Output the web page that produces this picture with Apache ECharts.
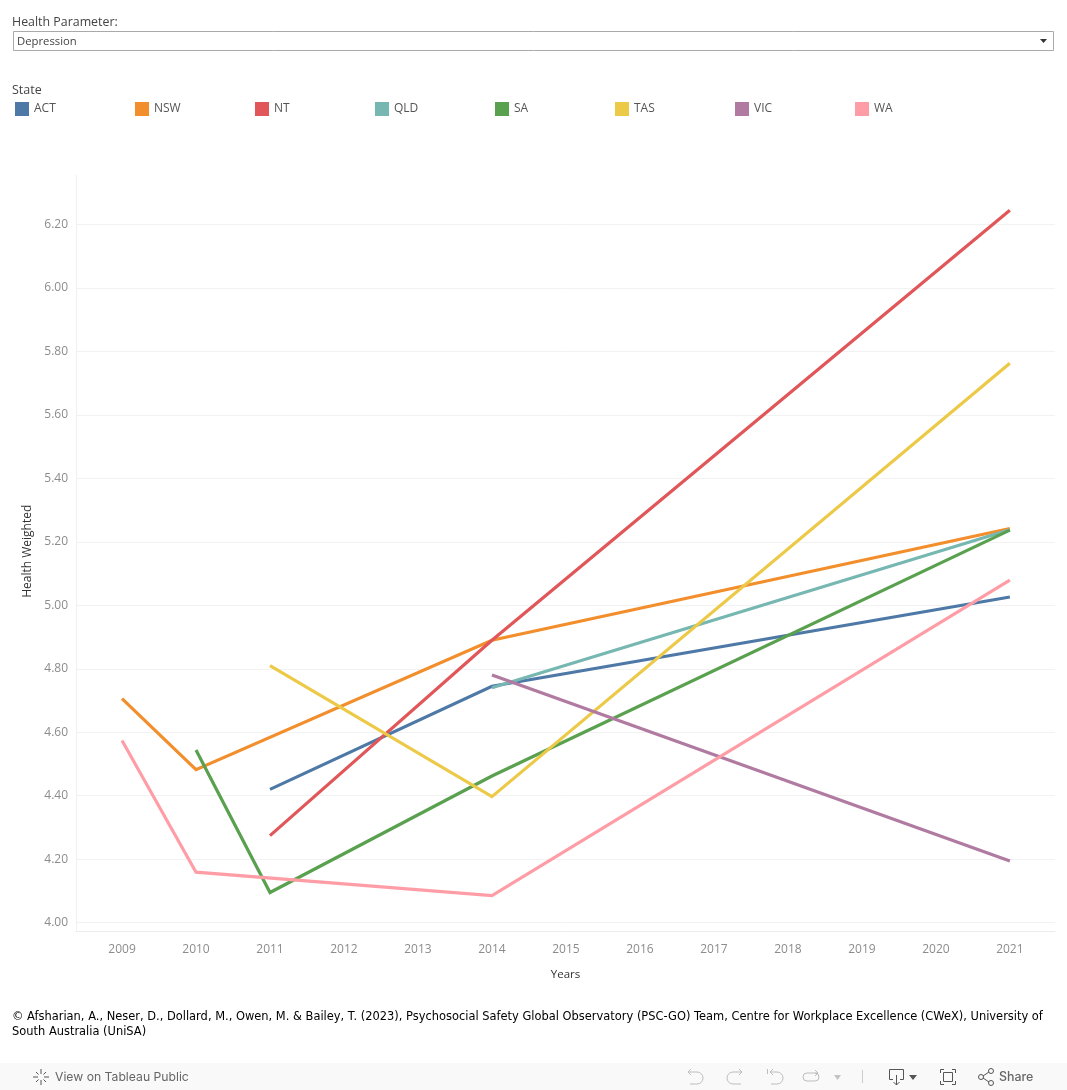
<!DOCTYPE html>
<html><head><meta charset="utf-8">
<style>html,body{margin:0;padding:0;background:#fff}#c{width:1067px;height:1090px}</style>
<script src="https://cdn.jsdelivr.net/npm/echarts@6/dist/echarts.min.js"></script>
</head><body><div id="c"></div>
<script>
const years=[2009,2010,2011,2012,2013,2014,2015,2016,2017,2018,2019,2020,2021];
const yTicks=[4.0,4.2,4.4,4.6,4.8,5.0,5.2,5.4,5.6,5.8,6.0,6.2];
const states=['ACT','NSW','NT','QLD','SA','TAS','VIC','WA'];
const colors=['#4e79a7','#f28e2b','#e15759','#76b7b2','#59a14f','#edc948','#b07aa1','#ff9da7'];
const ACT=[null,null,4.42,null,null,4.745,null,null,null,null,null,null,5.026];
const NSW=[4.706,4.482,null,null,null,4.89,null,null,null,null,null,null,5.242];
const NT=[null,null,4.274,null,null,4.89,null,null,null,null,null,null,6.245];
const QLD=[null,null,null,null,null,4.74,null,null,null,null,null,null,5.238];
const SA=[null,4.544,4.095,null,null,4.462,null,null,null,null,null,null,5.237];
const TAS=[null,null,4.81,null,null,4.397,null,null,null,null,null,null,5.763];
const VIC=[null,null,null,null,null,4.78,null,null,null,null,null,null,4.194];
const WA=[4.574,4.159,null,null,null,4.085,null,null,null,null,null,null,5.079];
const seriesData=[ACT,NSW,NT,QLD,SA,TAS,VIC,WA];
const citation=['© Afsharian, A., Neser, D., Dollard, M., Owen, M. & Bailey, T. (2023), Psychosocial Safety Global Observatory (PSC-GO) Team, Centre for Workplace Excellence (CWeX), University of','South Australia (UniSA)'];

const UI='"Open Sans"';
const txt=(x,y,t,o)=>({type:'text',x,y,silent:true,style:Object.assign({text:t,fontFamily:UI,fontSize:11,fill:'#333',textVerticalAlign:'middle'},o||{})});
const pl=(pts,stroke)=>({type:'polyline',silent:true,shape:{points:pts},style:{fill:'none',stroke:stroke,lineWidth:1}});
const arc=(cx,cy,r,a,b,stroke)=>({type:'arc',silent:true,shape:{cx,cy,r,startAngle:a,endAngle:b,clockwise:true},style:{fill:'none',stroke:stroke,lineWidth:1}});
const circ=(cx,cy,r,stroke)=>({type:'circle',silent:true,shape:{cx,cy,r},style:{fill:'none',stroke:stroke,lineWidth:1}});
const P=Math.PI, G='#bdbdbd', D='#555';

const chart=echarts.init(document.getElementById('c'),null,{renderer:'canvas'});
chart.setOption({
 animation:false,backgroundColor:'#fff',
 grid:{left:76,right:12,top:175,bottom:158.5,containLabel:false},
 legend:states.map((s,i)=>({left:15+120*i,top:102,padding:0,icon:'rect',itemWidth:14,itemHeight:14,itemGap:0,selectedMode:false,
  data:[s],textStyle:{fontFamily:UI,fontSize:12,color:'#555'}})),
 xAxis:{type:'value',min:2008.378,max:2021.61,
  name:'Years',nameLocation:'middle',nameGap:37,nameTextStyle:{fontFamily:UI,fontSize:11.5,color:'#333'},
  axisLine:{show:true,lineStyle:{color:'#ececec',width:1}},
  axisTick:{show:false,customValues:years},
  axisLabel:{customValues:years,fontFamily:UI,fontSize:12,color:'#8c8c8c',margin:12,formatter:v=>String(v)},
  splitLine:{show:false}},
 yAxis:{type:'value',min:3.972,max:6.356,
  name:'Health Weighted',nameLocation:'middle',nameGap:41,nameTextStyle:{fontFamily:UI,fontSize:12,color:'#333',padding:[0,0,0,4]},
  axisLine:{show:true,onZero:false,lineStyle:{color:'#f0f0f0',width:1}},
  axisTick:{show:false,customValues:yTicks},
  axisLabel:{customValues:yTicks,fontFamily:UI,fontSize:12,color:'#8c8c8c',margin:8,padding:[2,0,0,0],formatter:v=>v.toFixed(2)},
  splitLine:{show:true,lineStyle:{color:'#f2f2f2',width:1}}},
 series:states.map((s,i)=>({name:s,type:'line',showSymbol:false,symbol:'none',connectNulls:true,z:i+2,
   itemStyle:{color:colors[i]},lineStyle:{color:colors[i],width:3.2,join:'miter',cap:'butt'},
   data:years.map((y,j)=>[y,seriesData[i][j]]).filter(p=>p[1]!==null)})),
 graphic:[
  txt(12,22,'Health Parameter:',{fontSize:12.4,fill:'#444'}),
  {type:'rect',silent:true,shape:{x:13.5,y:31.5,width:1040,height:19},style:{fill:'#fff',stroke:'#a9a9a9',lineWidth:1}},
  txt(17,42,'Depression',{fontSize:11.3,fill:'#444'}),
  {type:'polygon',silent:true,shape:{points:[[1040,39],[1047,39],[1043.5,43]]},style:{fill:'#333'}},
  txt(12,90,'State',{fontSize:12.5,fill:'#444'}),
  txt(12,1017,citation[0],{fontFamily:'"DejaVu Sans"',fontSize:11.45,fill:'#000'}),
  txt(12,1032,citation[1],{fontFamily:'"DejaVu Sans"',fontSize:11.45,fill:'#000'}),
  {type:'rect',silent:true,z:-1,shape:{x:0,y:1063,width:1067,height:27},style:{fill:'#f9f9f9'}},
  txt(55,1077,'View on Tableau Public',{fontFamily:'Inter',fontSize:12.2,fill:'#666'}),
  pl([[41,1069],[41,1074]],D),pl([[41,1080],[41,1085]],D),pl([[33,1077],[38,1077]],D),pl([[44,1077],[49,1077]],D),
  pl([[36,1072],[38.5,1074.5]],D),pl([[46,1072],[43.5,1074.5]],D),pl([[36,1082],[38.5,1079.5]],D),pl([[46,1082],[43.5,1079.5]],D),
  pl([[691,1069],[688,1072],[691,1075]],G),pl([[688,1072],[697,1072]],G),arc(697,1078,6,-P/2,P/2,G),pl([[697,1084],[690,1084]],G),
  pl([[739,1069],[742,1072],[739,1075]],G),pl([[742,1072],[733,1072]],G),arc(733,1078,6,P/2,3*P/2,G),pl([[733,1084],[741,1084]],G),
  pl([[767.5,1069],[767.5,1074]],G),pl([[773,1069],[770,1072],[773,1075]],G),pl([[770,1072],[777,1072]],G),arc(777,1078,6,-P/2,P/2,G),pl([[777,1084],[771,1084]],G),
  pl([[815,1070],[818,1073],[815,1076]],G),pl([[818,1073],[807,1073]],G),arc(807,1077,4,P/2,3*P/2,G),pl([[807,1081],[815,1081]],G),arc(815,1077,4,-P/2,P/2,G),
  {type:'polygon',silent:true,shape:{points:[[834,1075],[841,1075],[837.5,1080]]},style:{fill:'#c4c4c4'}},
  {type:'line',silent:true,shape:{x1:862.5,y1:1070,x2:862.5,y2:1083},style:{stroke:'#ccc',lineWidth:1}},
  pl([[893,1079.5],[889.5,1079.5],[889.5,1069.5],[903.5,1069.5],[903.5,1079.5],[900,1079.5]],D),pl([[896.5,1075],[896.5,1085]],D),pl([[893.5,1082],[896.5,1085],[899.5,1082]],D),
  {type:'polygon',silent:true,shape:{points:[[909,1075],[917,1075],[913,1080]]},style:{fill:'#555'}},
  pl([[940.5,1073],[940.5,1069.5],[944,1069.5]],D),pl([[952,1069.5],[955.5,1069.5],[955.5,1073]],D),pl([[955.5,1081],[955.5,1084.5],[952,1084.5]],D),pl([[944,1084.5],[940.5,1084.5],[940.5,1081]],D),
  {type:'rect',silent:true,shape:{x:943.5,y:1072.5,width:9,height:9},style:{fill:'none',stroke:D,lineWidth:1}},
  pl([[989,1072],[983,1076]],D),pl([[983,1078],[989,1082]],D),circ(991,1071,2.5,D),circ(981,1077,2.5,D),circ(991,1083,2.5,D),
  txt(999,1077,'Share',{fontFamily:'Inter',fontSize:12.4,fontWeight:500,fill:'#666'})
 ]
});
</script></body></html>
